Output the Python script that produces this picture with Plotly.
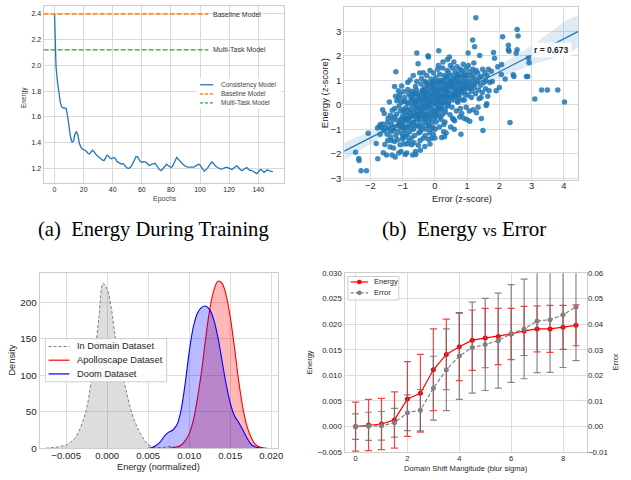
import plotly.graph_objects as go

W, H = 631, 480


def px(x):
    return x / W


def py(y):
    return 1 - y / H


FONT = "Liberation Sans, Arial, sans-serif"
TXT = "#262626"

# ---------------- (a) Energy during training ----------------
consistency_energy = [
    2.40, 1.99, 1.87, 1.77, 1.71, 1.675, 1.668, 1.668, 1.665, 1.60,
    1.51, 1.44, 1.402, 1.41, 1.465, 1.485, 1.46, 1.395, 1.365, 1.35,
    1.345, 1.34, 1.33, 1.315, 1.31, 1.325, 1.34, 1.33, 1.31, 1.30,
    1.29, 1.28, 1.27, 1.262, 1.258, 1.275, 1.30, 1.295, 1.278, 1.272,
    1.28, 1.283, 1.27, 1.25, 1.245, 1.24, 1.232, 1.236, 1.225, 1.21,
    1.20, 1.198, 1.205, 1.22, 1.24, 1.262, 1.29, 1.29, 1.27, 1.25,
    1.245, 1.25, 1.248, 1.245, 1.232, 1.22, 1.225, 1.232, 1.236, 1.238,
    1.225, 1.205, 1.19, 1.18, 1.19, 1.205, 1.222, 1.23, 1.22, 1.21,
    1.205, 1.212, 1.235, 1.265, 1.284, 1.27, 1.255, 1.242, 1.232, 1.222,
    1.215, 1.21, 1.208, 1.206, 1.206, 1.208, 1.21, 1.215, 1.222, 1.23,
    1.225, 1.205, 1.188, 1.177, 1.185, 1.198, 1.215, 1.235, 1.248, 1.238,
    1.222, 1.212, 1.205, 1.198, 1.194, 1.192, 1.196, 1.203, 1.208, 1.204,
    1.196, 1.195, 1.19, 1.20, 1.212, 1.218, 1.21, 1.195, 1.185, 1.182,
    1.19, 1.20, 1.205, 1.195, 1.183, 1.185, 1.178, 1.17, 1.16, 1.157,
    1.17, 1.185, 1.19, 1.175, 1.167, 1.175, 1.187, 1.182, 1.176, 1.175,
    1.172,
]
epochs = list(range(len(consistency_energy)))
baseline_energy = 2.40
multitask_energy = 2.12
epoch_ticks = [0, 20, 40, 60, 80, 100, 120, 140]
energy_ticks_a = [1.2, 1.4, 1.6, 1.8, 2.0, 2.2, 2.4]

# ---------------- (b) Energy vs Error scatter ----------------
scatter_points = [
    (-2.46, -1.93), (-2.36, -2.19), (-2.35, -2.27), (-2.29, -2.69), (-2.12, -2.69),
    (-2.07, -1.16), (-1.77, -2.2), (-1.82, -1.58), (-1.72, -0.88), (-1.69, -0.8),
    (-1.64, -0.93), (-1.7, -1.2), (-1.78, -0.95), (-1.62, -0.2), (-1.21, 1.35),
    (-1.62, -0.78), (-1.58, -1.05), (-1.55, -1.62), (-1.6, -1.95), (-1.57, -0.35), (-1.52, -0.92),
    (-1.48, -1.2), (-1.45, -0.55), (-1.5, -2.05), (-1.43, -0.98), (-1.46, -1.45), (-1.41, 0.12), (-1.47, -0.72),
    (-1.38, -0.43), (-1.36, -1.1), (-1.33, -2.05), (-1.39, -1.72), (-1.35, -0.8), (-1.32, -0.22), (-1.37, -1.32), (-1.31, -0.62),
    (-1.28, -1.76), (-1.25, 0.75), (-1.23, -2.13), (-1.27, -0.95), (-1.22, 0.35), (-1.26, -0.5), (-1.21, -1.25), (-1.24, -0.15), (-1.29, -1.05),
    (-1.18, 0.17), (-1.13, 0.57), (-1.15, -0.85), (-1.12, -1.96), (-1.19, -0.38), (-1.16, -1.42), (-1.11, -0.05), (-1.14, -1.1), (-1.17, -0.62), (-1.1, 0.28),
    (-1.08, -1.63), (-1.03, 0.77), (-1.05, -0.72), (-1.07, -0.25), (-1.02, -1.18), (-1.09, 0.42), (-1.01, -0.48), (-1.06, -0.95), (-1.04, 0.1), (-1.0, -1.4),
    (-0.97, 0.53), (-0.95, -0.3), (-0.98, -0.82), (-0.92, -2.03), (-0.94, -1.05), (-0.96, 0.15), (-0.91, -0.58), (-0.93, 0.3), (-0.99, -1.3), (-0.9, -0.12), (-0.95, -1.6),
    (-0.87, -1.96), (-0.84, 0.91), (-0.88, -0.4), (-0.85, -0.9), (-0.82, 0.05), (-0.86, -1.2), (-0.81, 0.45), (-0.89, -0.65), (-0.83, -0.22), (-0.8, -1.45), (-0.84, 0.62),
    (-0.77, 1.01), (-0.75, -0.5), (-0.78, -1.1), (-0.72, -1.63), (-0.74, 0.2), (-0.76, -0.18), (-0.71, 0.55), (-0.79, -0.8), (-0.73, -1.35), (-0.7, -0.02), (-0.75, 0.35),
    (-0.69, -2.05), (-0.67, 1.2), (-0.65, -0.7), (-0.68, -0.3), (-0.62, 0.1), (-0.66, -1.0), (-0.64, 0.48), (-0.61, -0.45), (-0.63, -1.25), (-0.6, 0.75), (-0.68, 0.2), (-0.62, -0.15),
    (-0.59, -2.03), (-0.56, 2.11), (-0.52, 1.67), (-0.51, -1.65), (-0.55, -0.4), (-0.58, 0.3), (-0.53, -0.85), (-0.57, 0.6), (-0.54, -0.05), (-0.5, -1.15), (-0.56, 0.95), (-0.52, 0.15), (-0.58, -0.6),
    (-0.48, 0.4), (-0.45, -0.3), (-0.47, -0.9), (-0.43, 0.85), (-0.46, -1.45), (-0.41, 1.07), (-0.44, 0.05), (-0.49, -0.55), (-0.42, -0.15), (-0.4, 0.55), (-0.47, 1.3), (-0.45, -1.1),
    (-0.36, 1.31), (-0.36, -1.36), (-0.38, 0.2), (-0.35, -0.5), (-0.33, 0.7), (-0.37, -0.85), (-0.32, -0.1), (-0.34, 0.45), (-0.39, -0.25), (-0.31, -1.7), (-0.3, 0.95), (-0.35, 0.05),
    (-0.26, 0.91), (-0.28, -0.4), (-0.25, 0.3), (-0.27, -1.0), (-0.22, 0.6), (-0.24, -0.15), (-0.21, 2.0), (-0.2, 1.95), (-0.29, -0.7), (-0.23, 0.1), (-0.2, -1.4), (-0.25, 1.2), (-0.28, 0.5),
    (-0.18, -0.05), (-0.15, 0.75), (-0.17, -0.6), (-0.13, 0.35), (-0.16, -1.15), (-0.12, 1.05), (-0.19, 0.2), (-0.14, -0.3), (-0.11, 0.55), (-0.1, -1.36), (-0.15, 1.4), (-0.18, -0.85), (-0.12, 0.0),
    (-0.08, 0.15), (-0.05, 0.65), (-0.07, -0.45), (-0.03, 0.95), (-0.06, -0.9), (-0.02, 0.4), (-0.09, -0.15), (-0.04, 1.3), (-0.01, -0.55), (-0.08, 0.85), (-0.05, -1.2), (0.0, 0.2),
    (0.02, 0.5), (0.05, -0.2), (0.03, 1.1), (0.07, 0.1), (0.04, -0.7), (0.08, 0.75), (0.01, -1.0), (0.06, 0.3), (0.09, 1.45), (0.12, 2.2), (0.1, -0.35), (0.05, 0.9), (0.08, -0.05),
    (0.12, 0.6), (0.15, -0.5), (0.13, 0.2), (0.17, 1.0), (0.14, -0.9), (0.18, 0.45), (0.11, 1.6), (0.16, -0.15), (0.19, 0.8), (0.21, -1.33), (0.15, 1.25), (0.2, 0.0),
    (0.22, 0.35), (0.25, 0.9), (0.23, -0.4), (0.27, 0.6), (0.24, 1.5), (0.28, -0.8), (0.26, 0.1), (0.29, 1.2), (0.21, -0.2), (0.3, 0.7), (0.25, 1.75), (0.27, -1.1),
    (0.32, 0.5), (0.35, 1.1), (0.33, -0.3), (0.37, 0.8), (0.34, 0.15), (0.38, 1.4), (0.31, -0.7), (0.36, 0.35), (0.39, 1.85), (0.4, -0.05), (0.35, -1.15),
    (0.42, 0.9), (0.45, 0.3), (0.43, 1.3), (0.47, -0.4), (0.44, 0.6), (0.48, 1.6), (0.41, 0.05), (0.46, 1.0), (0.49, -0.9), (0.5, 0.45), (0.45, 1.95),
    (0.52, 0.75), (0.55, 1.2), (0.53, -0.1), (0.57, 0.4), (0.54, 1.5), (0.58, -0.6), (0.51, 0.95), (0.56, 0.2), (0.59, 1.75), (0.6, 0.6), (0.55, -0.55),
    (0.62, 1.0), (0.65, 0.35), (0.63, 1.35), (0.67, -0.25), (0.64, 0.7), (0.68, 1.1), (0.61, -0.65), (0.66, 0.5), (0.69, 1.55), (0.7, 0.15),
    (0.72, 0.9), (0.75, 0.4), (0.73, 1.25), (0.77, -0.5), (0.74, 0.65), (0.78, 1.45), (0.71, 0.1), (0.76, 0.95), (0.79, -0.15), (0.8, 0.6),
    (0.82, 1.1), (0.85, 0.5), (0.83, -0.35), (0.87, 0.85), (0.84, 1.4), (0.81, -1.2), (0.86, 0.2), (0.88, 1.65), (0.89, 0.7), (0.9, -0.55),
    (0.92, 0.95), (0.95, 0.4), (0.93, 1.3), (0.97, -0.1), (0.94, 0.75), (0.98, 1.5), (0.91, 0.2), (0.96, 1.05), (0.99, -0.6),
    (1.02, 0.85), (1.05, 1.2), (1.03, 0.4), (1.07, -0.25), (1.04, 1.6), (1.08, 0.65), (1.03, 2.11), (1.08, -0.67), (1.06, 0.95), (1.09, 1.35),
    (1.12, 0.75), (1.15, 1.1), (1.17, 2.64), (1.13, 0.3), (1.18, 1.45), (1.14, 0.55), (1.19, -0.2), (1.16, 0.9), (1.2, 1.25),
    (1.23, 2.37), (1.27, 3.55), (1.22, 0.7), (1.25, 1.05), (1.29, -0.32), (1.26, 0.45), (1.28, 1.4), (1.24, 0.85), (1.21, 1.7),
    (1.32, 0.95), (1.35, 0.6), (1.39, 2.01), (1.33, 1.3), (1.37, 0.25), (1.38, 1.1), (1.34, -0.1),
    (1.44, -0.56), (1.42, 0.8), (1.45, 1.15), (1.47, 0.5), (1.49, -1.05), (1.48, 1.45), (1.43, 0.3),
    (1.52, 0.9), (1.55, 1.3), (1.59, -0.03), (1.61, 0.04), (1.57, 0.65), (1.58, 1.0),
    (1.62, 1.2), (1.68, 0.57), (1.7, 0.91), (1.66, 1.45), (1.64, 0.35),
    (1.75, 1.37), (1.82, 2.13), (1.78, 0.95), (1.9, 0.57), (2.0, 0.71), (2.06, 1.24), (2.07, 1.64),
    (2.1, 2.77), (2.28, 2.43), (2.28, 2.24), (2.3, 2.18), (2.33, -0.72), (2.43, 1.23), (2.45, 1.15),
    (2.55, 3.07), (2.58, 2.81), (2.55, 2.24), (2.52, 2.1), (2.84, 1.15), (2.88, 1.15), (2.9, 1.91),
    (2.92, 1.71), (3.1, 0.24), (3.31, 0.6), (3.49, 0.6), (3.81, 0.6), (4.02, 0.11), (1.85, 1.9),
    (1.95, 1.55), (2.18, 1.05),
    (-1.05, -0.6), (-0.98, -0.2), (-0.92, -0.95), (-0.88, 0.1), (-0.83, -0.55), (-0.78, -0.35),
    (-0.74, -0.95), (-0.7, 0.4), (-0.66, -0.45), (-0.63, 0.05), (-0.6, -0.85), (-0.57, -0.25),
    (-0.55, 0.45), (-0.52, -0.5), (-0.49, 0.2), (-0.46, -0.7), (-0.43, 0.3), (-0.41, -0.4),
    (-0.38, 0.6), (-0.36, -0.05), (-0.33, -0.6), (-0.31, 0.35), (-0.28, 0.0), (-0.26, -0.35),
    (-0.23, 0.8), (-0.21, -0.8), (-0.19, 0.45), (-0.16, 0.1), (-0.14, -0.45), (-0.11, 0.9),
    (-0.09, -0.7), (-0.07, 0.35), (-0.04, -0.25), (-0.02, 0.7), (0.01, 0.05), (0.03, -0.45),
    (0.06, 0.55), (0.09, 0.25), (0.11, -0.15), (0.14, 0.95), (0.17, 0.3), (0.19, -0.6),
    (0.22, 0.65), (0.24, 0.05), (0.27, 1.0), (0.29, 0.3), (0.32, -0.15), (0.34, 0.85),
    (0.37, 0.45), (0.4, 1.15), (0.43, 0.1), (0.46, 0.75), (0.5, 0.95), (0.53, 0.3),
    (0.57, 1.05), (0.6, 0.35), (0.63, 0.85), (0.67, 0.6), (0.7, 1.2), (0.74, 0.3),
    (0.78, 0.8), (0.82, 0.6), (0.87, 1.2), (0.91, 0.55), (0.95, 1.2), (1.0, 0.7),
    (-1.25, -1.5), (-1.1, -0.8), (-0.95, -0.55), (-0.8, -0.6), (-0.65, -1.55), (-0.5, -0.15),
    (-0.4, -1.0), (-0.25, -0.55), (-0.12, -1.0), (0.02, -0.35), (0.15, 0.4), (0.35, 0.6),
    (0.55, 0.8), (-0.3, 0.25), (-0.7, -0.75), (-1.0, -0.9), (-0.85, -1.6), (-0.6, -1.9),
    (-0.45, -1.85), (-0.3, -1.25), (-0.15, -1.6), (0.0, -1.35), (0.3, -1.3), (0.6, -1.0),
    (-1.35, -1.45), (-1.05, -1.9), (-0.9, -1.3),
]
error_z = [p[0] for p in scatter_points]
energy_z = [p[1] for p in scatter_points]
pearson_r = 0.673
fit_slope = 0.673
fit_intercept = 0.0
ci_x = [-2.81, -2.0, -1.0, 0.0, 1.0, 2.0, 3.0, 4.45]
ci_half = [0.36, 0.26, 0.14, 0.07, 0.12, 0.25, 0.40, 0.60]
xz_ticks = [-2, -1, 0, 1, 2, 3, 4]
yz_ticks = [-3, -2, -1, 0, 1, 2, 3]
xb_range = [-2.81, 4.45]

# ---------------- (c) KDE of energies ----------------
indomain_x = [-0.0075, -0.007, -0.0065, -0.006, -0.0055, -0.005, -0.0045, -0.004, -0.0035,
              -0.003, -0.0025, -0.002, -0.0015, -0.001, -0.0005, 0.0, 0.0005, 0.001, 0.0015,
              0.002, 0.0025, 0.003, 0.0035, 0.004, 0.0045, 0.005, 0.0055, 0.006, 0.0065,
              0.007, 0.0075, 0.008, 0.0085, 0.009]
indomain_d = [0.0, 0.5, 1.0, 1.8, 3.0, 4.5, 8.0, 13.0, 22.0,
              36.0, 55.0, 88.0, 130.0, 180.0, 226.0, 218.0, 192.0, 152.0, 124.0,
              95.0, 70.0, 48.0, 33.0, 21.0, 12.0, 5.0, 2.5, 1.2, 1.0,
              1.3, 2.5, 2.0, 0.5, 0.0]
apollo_x = [0.0075, 0.008, 0.0085, 0.009, 0.0095, 0.01, 0.0105, 0.011, 0.0115, 0.012,
            0.0125, 0.013, 0.0135, 0.014, 0.0145, 0.015, 0.0155, 0.016, 0.0165, 0.017,
            0.0175, 0.018, 0.0185, 0.019, 0.0195]
apollo_d = [0.0, 0.5, 2.0, 4.0, 10.0, 20.0, 38.0, 68.0, 105.0, 150.0,
            190.0, 216.0, 229.0, 226.0, 210.0, 180.0, 140.0, 95.0, 58.0, 32.0,
            16.0, 6.0, 2.0, 0.5, 0.0]
doom_x = [0.005, 0.0055, 0.006, 0.0065, 0.007, 0.0075, 0.008, 0.0085, 0.009, 0.0095,
          0.01, 0.0105, 0.011, 0.0115, 0.012, 0.0125, 0.013, 0.0135, 0.014, 0.0145,
          0.015, 0.0155, 0.016, 0.0165, 0.017, 0.0175, 0.018, 0.0185, 0.019]
doom_d = [0.0, 1.0, 4.0, 9.0, 17.0, 22.0, 25.0, 32.0, 52.0, 88.0,
          132.0, 166.0, 185.0, 193.0, 195.0, 190.0, 176.0, 152.0, 120.0, 88.0,
          62.0, 45.0, 36.0, 26.0, 15.0, 6.0, 2.0, 0.5, 0.0]
energy_norm_ticks = [-0.005, 0.0, 0.005, 0.010, 0.015, 0.020]
density_ticks = [0, 50, 100, 150, 200]

# ---------------- (d) Domain shift ----------------
blur_sigma = [0, 0.5, 1, 1.5, 2, 2.5, 3, 3.5, 4, 4.5, 5, 5.5, 6, 6.5, 7, 7.5, 8, 8.5]
energy_mean = [0.0000, 0.0003, 0.0005, 0.0013, 0.0054, 0.0065, 0.0111, 0.0141, 0.0156,
               0.0169, 0.0173, 0.0176, 0.0181, 0.0187, 0.0191, 0.0191, 0.0194, 0.0198]
energy_std = [0.0048, 0.0050, 0.0050, 0.0055, 0.0073, 0.0076, 0.0080, 0.0069, 0.0066,
              0.0059, 0.0058, 0.0055, 0.0050, 0.0048, 0.0045, 0.0046, 0.0043, 0.0040]
error_mean = [0.0000, 0.0001, 0.0003, 0.0015, 0.0054, 0.0064, 0.0150, 0.0222, 0.0276,
              0.0309, 0.0321, 0.0336, 0.0364, 0.0382, 0.0413, 0.0418, 0.0437, 0.0468]
error_std = [0.0050, 0.0055, 0.0056, 0.0056, 0.0070, 0.0081, 0.0125, 0.0160, 0.0170,
             0.0178, 0.0180, 0.0186, 0.0191, 0.0195, 0.0202, 0.0206, 0.0206, 0.0210]
blur_ticks = [0, 2, 4, 6, 8]
energy_d_ticks = [-0.005, 0.0, 0.005, 0.010, 0.015, 0.020, 0.025, 0.030]
error_d_ticks = [-0.01, 0.0, 0.01, 0.02, 0.03, 0.04, 0.05, 0.06]

# =============================================================
fig = go.Figure()

# (a)
fig.add_trace(go.Scatter(x=epochs, y=consistency_energy, mode="lines",
                         line=dict(color="#1f77b4", width=1.3),
                         xaxis="x", yaxis="y", showlegend=False))

# (b)
band_upper = [fit_slope * x + fit_intercept + h for x, h in zip(ci_x, ci_half)]
band_lower = [fit_slope * x + fit_intercept - h for x, h in zip(ci_x, ci_half)]
fig.add_trace(go.Scatter(x=ci_x + ci_x[::-1], y=band_upper + band_lower[::-1],
                         fill="toself", fillcolor="rgba(31,119,180,0.15)",
                         line=dict(width=0, shape="spline"), mode="lines", hoverinfo="skip",
                         xaxis="x2", yaxis="y2", showlegend=False))
fig.add_trace(go.Scatter(x=error_z, y=energy_z, mode="markers",
                         marker=dict(color="#1f77b4", size=5.5, opacity=0.85,
                                     line=dict(width=0)),
                         xaxis="x2", yaxis="y2", showlegend=False))
fig.add_trace(go.Scatter(x=xb_range, y=[fit_slope * x + fit_intercept for x in xb_range],
                         mode="lines", line=dict(color="#1f77b4", width=1.3),
                         xaxis="x2", yaxis="y2", showlegend=False))

# (c)
fig.add_trace(go.Scatter(x=indomain_x, y=indomain_d, mode="lines", fill="tozeroy",
                         fillcolor="rgba(128,128,128,0.27)",
                         line=dict(color="#808080", width=1, dash="3px,2px", shape="spline"),
                         xaxis="x3", yaxis="y3", showlegend=False))
fig.add_trace(go.Scatter(x=apollo_x, y=apollo_d, mode="lines", fill="tozeroy",
                         fillcolor="rgba(255,0,0,0.28)",
                         line=dict(color="red", width=1.1, shape="spline"),
                         xaxis="x3", yaxis="y3", showlegend=False))
fig.add_trace(go.Scatter(x=doom_x, y=doom_d, mode="lines", fill="tozeroy",
                         fillcolor="rgba(0,0,255,0.27)",
                         line=dict(color="blue", width=1.1, shape="spline"),
                         xaxis="x3", yaxis="y3", showlegend=False))

# (d)
fig.add_trace(go.Scatter(x=blur_sigma, y=energy_mean, mode="lines+markers",
                         line=dict(color="red", width=1.2),
                         marker=dict(color="red", size=5),
                         error_y=dict(type="data", array=energy_std, color="rgba(255,0,0,0.75)",
                                      thickness=1.2, width=3.5),
                         xaxis="x4", yaxis="y4", showlegend=False))
fig.add_trace(go.Scatter(x=blur_sigma, y=error_mean, mode="lines+markers",
                         line=dict(color="#808080", width=1.2, dash="4px,2px"),
                         marker=dict(color="#808080", size=5),
                         error_y=dict(type="data", array=error_std, color="rgba(105,105,105,0.8)",
                                      thickness=1.2, width=3.5),
                         xaxis="x4", yaxis="y5", showlegend=False))


def ax(domain, rng, tickvals, size, fmt=None, grid="#dcdcdc", gw=1, lw=1, anchor=None, **kw):
    d = dict(domain=domain, range=rng, tickvals=tickvals, showgrid=True, gridcolor=grid,
             gridwidth=gw, showline=True, linecolor="#cccccc", linewidth=lw, mirror=True,
             zeroline=False, ticks="", tickfont=dict(family=FONT, size=size, color=TXT))
    if fmt:
        d["tickformat"] = fmt
    if anchor:
        d["anchor"] = anchor
    d.update(kw)
    return d


layout = dict(
    width=W, height=H, autosize=False, margin=dict(l=0, r=0, t=0, b=0),
    paper_bgcolor="white", plot_bgcolor="white", showlegend=False,
    font=dict(family=FONT, color=TXT),
    xaxis=ax([px(44), px(286)], [-7.5, 157.5], epoch_ticks, 7, grid="#d9d9d9", gw=1.3, anchor="y"),
    yaxis=ax([py(182), py(2)], [1.0875, 2.4625], energy_ticks_a, 7, ".1f", grid="#d9d9d9", gw=1.3, anchor="x"),
    xaxis2=ax([px(347), px(583)], xb_range, xz_ticks, 9.3, anchor="y2", ticklabelstandoff=-3),
    yaxis2=ax([py(179), py(3)], [-3.05, 3.99], yz_ticks, 9.5, anchor="x2"),
    xaxis3=ax([px(40), px(280)], [-0.00823, 0.0208], energy_norm_ticks, 9.6, ".3f", anchor="y3",
              ticklabelstandoff=-2),
    yaxis3=ax([py(452.7), py(274)], [0, 240.4], density_ticks, 9.8, anchor="x3"),
    xaxis4=ax([px(347.3), px(591.7)], [-0.425, 8.925], blur_ticks, 7.5, lw=1.4, anchor="y4",
              ticklabelstandoff=-1),
    yaxis4=ax([py(456.7), py(274.3)], [-0.005, 0.030], energy_d_ticks, 7.8, ".3f", lw=1.4, anchor="x4"),
    yaxis5=dict(overlaying="y4", side="right", anchor="x4", range=[-0.01, 0.06],
                tickvals=error_d_ticks, tickformat=".2f", showgrid=False, zeroline=False,
                showline=False, ticks="", tickfont=dict(family=FONT, size=7.8, color=TXT)),
)

shapes = []
annotations = []


def text(x, y, s, size, angle=0, xanchor="center", color=TXT, family=FONT, **kw):
    annotations.append(dict(x=px(x), y=py(y), xref="paper", yref="paper", text=s,
                            showarrow=False, textangle=angle, xanchor=xanchor,
                            yanchor="middle", font=dict(family=family, size=size, color=color), **kw))


def box(x0, y0, x1, y1, border="#cccccc"):
    shapes.append(dict(type="rect", xref="paper", yref="paper", x0=px(x0), x1=px(x1),
                       y0=py(y1), y1=py(y0), fillcolor="rgba(255,255,255,0.85)",
                       line=dict(color=border, width=1 if border else 0), layer="above"))


def sample(x0, x1, y, color, dash="solid", width=1.3):
    shapes.append(dict(type="line", xref="paper", yref="paper", x0=px(x0), x1=px(x1),
                       y0=py(y), y1=py(y), line=dict(color=color, dash=dash, width=width),
                       layer="above"))


def dot(x, y, r, color):
    shapes.append(dict(type="circle", xref="paper", yref="paper", x0=px(x - r), x1=px(x + r),
                       y0=py(y + r), y1=py(y - r), fillcolor=color, line=dict(width=0),
                       layer="above"))


# (a) reference lines (axhline with xmax) and labels
for val, col in [(baseline_energy, "#ff7f0e"), (multitask_energy, "#2ca02c")]:
    shapes.append(dict(type="line", xref="x domain", yref="y", x0=0, x1=0.686, y0=val, y1=val,
                       line=dict(color=col, width=1.3, dash="5px,2px")))
text(213, 10.5, "Baseline Model", 7, xanchor="left", color="#333333")
text(213, 46, "Multi-Task Model", 7, xanchor="left", color="#333333")
# (a) legend
shapes.append(dict(type="rect", xref="paper", yref="paper", x0=px(198), x1=px(283),
                   y0=py(106), y1=py(76), fillcolor="white", line=dict(width=0), layer="above"))
sample(201.5, 215, 82.3, "#1f77b4")
sample(201.5, 215, 91.7, "#ff7f0e", dash="3px,2px")
sample(201.5, 215, 100.7, "#2ca02c", dash="3px,2px")
text(221, 82.3, "Consistency Model", 6.5, xanchor="left", color="#444444")
text(221, 91.7, "Baseline Model", 6.5, xanchor="left", color="#444444")
text(221, 100.7, "Multi-Task Model", 6.5, xanchor="left", color="#444444")
text(24, 95, "Energy", 6.5, angle=-90, color="#444444")
text(166, 199, "Epochs", 7, color="#444444")

# (b) labels
text(326.5, 91, "Energy (z-score)", 9.5, angle=-90)
text(466, 198.5, "Error (z-score)", 9.3)
annotations.append(dict(x=px(556), y=py(47), xref="paper", yref="paper",
                        xanchor="center", yanchor="middle",
                        text="<b>r = %.3f</b>" % pearson_r, showarrow=False,
                        bgcolor="rgba(255,255,255,0.9)", borderpad=2,
                        font=dict(family=FONT, size=8.5, color=TXT)))

# (c) legend and labels
box(45.7, 341, 168, 385)
sample(49, 70, 349, "#808080", dash="3px,2px", width=1.1)
sample(49, 70, 363, "red", width=1.2)
sample(49, 70, 377, "blue", width=1.2)
text(76, 349, "In Domain Dataset", 9.3, xanchor="left")
text(76, 363, "Apolloscape Dataset", 9.3, xanchor="left")
text(76, 377, "Doom Dataset", 9.3, xanchor="left")
text(12.5, 363, "Density", 9.3, angle=-90)
text(160, 472, "Energy (normalized)", 9.2)

# (d) legend and labels
box(350.7, 277.7, 402, 301.7)
sample(353.5, 371, 283.3, "red", width=1.2)
dot(362.2, 283.3, 2.4, "red")
sample(353.5, 371, 294.3, "#808080", dash="3px,2px", width=1.2)
dot(362.2, 294.3, 2.4, "#808080")
text(375, 283.3, "Energy", 7.5, xanchor="left")
text(375, 294.3, "Error", 7.5, xanchor="left")
text(311.5, 365, "Energy", 7.5, angle=-90)
text(620, 365, "Error", 7.5, angle=-90)
text(470, 473.5, "Domain Shift Mangitude (blur sigma)", 7.6)

# captions
SERIF = "Liberation Serif, Times New Roman, serif"
text(36, 229.5, "(a)\u2002Energy During Training", 20.6, xanchor="left", color="black", family=SERIF)
text(383, 229.5, "(b)\u2002Energy <span style='font-size:16px'>vs</span> Error", 21,
     xanchor="left", color="black", family=SERIF)

layout["shapes"] = shapes
layout["annotations"] = annotations
fig.update_layout(**layout)
fig.write_html("out.html", config={"displayModeBar": False},
               post_script="document.body.style.margin='0';document.body.style.padding='0';")
